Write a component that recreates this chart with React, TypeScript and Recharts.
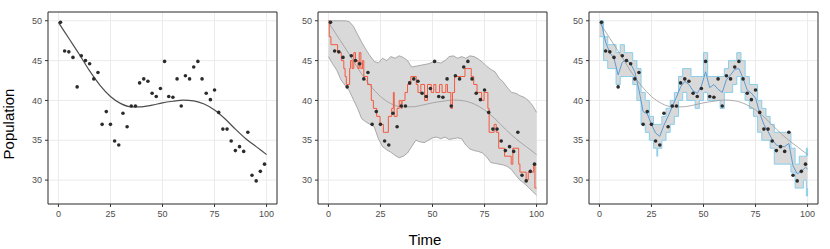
import {
  Area,
  CartesianGrid,
  ComposedChart,
  Line,
  ReferenceArea,
  Scatter,
  XAxis,
  YAxis,
} from 'recharts'

const FONT = '"Liberation Sans", Arial, Helvetica, sans-serif'

// observed population (dots)
const obsTime = [
  1, 3, 5, 7, 9, 11, 13, 15, 17, 19, 21, 23, 25, 27, 29, 31, 33, 35, 37, 39, 41, 43, 45, 47, 49,
  51, 53, 55, 57, 59, 61, 63, 65, 67, 69, 71, 73, 75, 77, 79, 81, 83, 85, 87, 89, 91, 93, 95, 97, 99,
]
const obsPop = [
  49.8, 46.2, 46.1, 45.4, 41.7, 45.6, 45.0, 44.6, 42.7, 43.5, 37.0, 38.6, 37.0, 34.9, 34.4, 38.4,
  36.7, 39.3, 39.3, 42.2, 42.7, 42.4, 40.9, 40.5, 41.5, 44.9, 40.5, 40.4, 42.7, 39.3, 43.1, 42.7,
  44.2, 44.9, 42.7, 40.9, 40.1, 41.3, 38.5, 36.4, 36.4, 34.9, 33.7, 34.2, 33.6, 36.0, 30.6, 29.9,
  31.1, 32.0,
]

// smooth trend
const trendTime = [0, 5, 10, 15, 20, 25, 30, 35, 40, 45, 50, 55, 60, 65, 70, 75, 80, 85, 90, 95, 100]
const trendPop = [
  49.8, 47.8, 45.8, 43.7, 41.9, 40.5, 39.6, 39.2, 39.2, 39.4, 39.7, 39.9, 40.05, 39.95, 39.55,
  38.8, 37.7, 36.4, 35.2, 34.2, 33.2,
]

// one simulated trajectory (step path)
const simTime = [
  0, 0.4, 1.2, 4.4, 6.2, 7.4, 8, 8.6, 10.2, 10.6, 11.4, 12.2, 13, 14.2, 14.8, 15.6, 16.4, 17, 18.8,
  20.6, 21.6, 23.2, 24.8, 26.4, 28.8, 30.4, 31.2, 31.6, 33, 34, 35, 35.4, 36.8, 38, 39.6, 42.2, 43,
  44.4, 46.2, 47.6, 49.4, 50.6, 51.6, 53.4, 54.6, 56.4, 57.2, 58.8, 59.6, 60.6, 65.6, 68.6, 69.8,
  71.4, 73.6, 74.8, 76.6, 77.2, 79.6, 80.6, 81.8, 84.6, 87.8, 88.6, 91.4, 92, 95, 96, 98.6, 99.2, 100,
]
const simPop = [
  50, 48, 47, 46, 45, 44, 43, 42, 44, 45, 44, 46, 45, 44, 46, 44, 45, 43, 42,
  40, 39, 38, 37, 36, 38, 39, 41, 38, 39, 40, 39, 40, 41, 42, 43, 42, 41,
  42, 40, 42, 41, 42, 41, 42, 41, 42, 41, 39, 41, 43, 44, 43, 42,
  41, 40, 41, 39, 36, 37, 36, 34, 33, 32, 34, 32, 31, 30, 31, 32, 29, 29,
]

// simulation envelope
const envTime = [
  0, 2, 4, 6, 8, 10, 12, 14, 16, 18, 20, 22, 24, 26, 28, 30, 32, 34, 36, 38, 40, 42, 44, 46, 48,
  50, 52, 54, 56, 58, 60, 62, 64, 66, 68, 70, 72, 74, 76, 78, 80, 82, 84, 86, 88, 90, 92, 94, 96, 98, 100,
]
const envUpper = [
  50, 50, 50, 50, 50, 49.9, 49.3, 48.3, 47.3, 46.4, 45.6, 44.9, 44.7, 45.3, 45.0, 45.5, 45.3,
  45.6, 45.4, 45.0, 44.2, 44.3, 44.4, 44.5, 44.6, 44.8, 44.8, 44.7, 45.0, 45.5, 45.6, 45.3, 45.5,
  45.3, 45.6, 45.5, 45.2, 44.8, 44.3, 43.9, 43.6, 42.8, 42.3, 41.6, 41.0, 40.9, 40.6, 40.4, 40.0,
  39.4, 38.5,
]
const envLower = [
  45.5, 44.6, 43.8, 42.6, 41.9, 41.2, 40.1, 39.0, 37.7, 37.3, 37.0, 36.7, 35.2, 34.2, 33.8, 33.5,
  33.1, 32.8, 33.0, 33.4, 34.2, 35.0, 34.8, 34.7, 35.0, 35.3, 35.4, 35.2, 35.4, 35.1, 35.2, 35.3,
  35.2, 34.4, 33.9, 33.7, 33.6, 33.4, 32.9, 32.2, 32.1, 32.0, 31.9, 31.7, 31.3, 30.6, 30.0, 29.6,
  29.1, 28.6, 28.1,
]

// filter mean and quantile band
const filterTime = [
  1, 3, 5, 7, 9, 11, 13, 15, 17, 19, 21, 23, 25, 27, 29, 31, 33, 35, 37, 39, 41, 43, 45, 47, 49,
  51, 53, 55, 57, 59, 61, 63, 65, 67, 69, 71, 73, 75, 77, 79, 81, 83, 85, 87, 89, 91, 93, 95, 97, 99, 100,
]
const filterMean = [
  49.7, 47.3, 46.0, 45.3, 43.2, 44.8, 45.1, 44.6, 43.6, 41.3, 38.6, 38.3, 37.0, 35.9, 35.5, 36.9,
  38.0, 39.2, 40.4, 41.7, 42.4, 42.0, 41.2, 40.9, 41.8, 43.6, 41.6, 42.0, 41.4, 41.0, 42.6, 43.2,
  43.9, 44.0, 42.8, 41.3, 40.9, 40.3, 38.4, 37.0, 36.1, 35.1, 34.4, 34.2, 34.2, 34.6, 31.8, 30.8,
  31.1, 31.6, 31.4,
]
const qTime = [
  0, 2, 4, 6, 8, 10, 12, 14, 16, 18, 20, 22, 24, 26, 27.6, 28, 30, 32, 34, 36, 38, 40, 42, 44, 46,
  48, 50, 52, 54, 56, 58, 60, 62, 64, 66, 68, 70, 72, 74, 76, 78, 80, 82, 84, 86, 88, 90, 92, 94,
  96, 98, 99.4, 100,
]
const qLower = [
  48, 45, 44, 44, 42, 43, 43, 43, 42, 40, 37, 36, 35, 34, 33, 34, 35, 36, 37, 38, 40, 41, 40, 40, 39,
  40, 41, 40, 40, 40, 39, 41, 41, 42, 43, 41, 40, 39, 38, 36, 35, 35, 34, 32, 32, 32, 32, 31, 29,
  29, 30, 28, 29,
]
const qUpper = [
  50, 48, 47, 47, 46, 47, 46, 46, 45, 44, 41, 40, 38, 37, 37, 37, 38, 39, 40, 41, 43, 44, 44, 43, 43,
  43, 46, 43, 43, 43, 43, 44, 45, 45, 46, 45, 43, 42, 42, 40, 39, 38, 37, 36, 36, 36, 36, 34, 32,
  33, 33, 34, 33,
]

const X_TICKS = [0, 25, 50, 75, 100]
const Y_TICKS = [30, 35, 40, 45, 50]

const points = obsTime.map((x, i) => ({ x, y: obsPop[i] }))
const trend = trendTime.map((x, i) => ({ x, y: trendPop[i] }))
const sim = simTime.map((x, i) => ({ x, y: simPop[i] }))
const envelope = envTime.map((x, i) => ({ x, band: [envLower[i], envUpper[i]] }))
const mean = filterTime.map((x, i) => ({ x, y: filterMean[i] }))
const quantiles = qTime.map((x, i) => ({ x, band: [qLower[i], qUpper[i]] }))

const Dot = (props: any) => <circle cx={props.cx} cy={props.cy} r={1.8} fill="#2b2b2b" />

function Panel({ left, children }: { left: number; children: React.ReactNode }) {
  return (
    <div style={{ position: 'absolute', left: left - 40, top: 0 }}>
      <ComposedChart width={271} height={249} margin={{ top: 12, right: 2, bottom: 25, left: 0 }}>
        <CartesianGrid stroke="#ebebeb" strokeWidth={1} />
        <XAxis
          type="number"
          dataKey="x"
          domain={[-5, 105]}
          ticks={X_TICKS}
          allowDataOverflow
          height={20}
          tickSize={3}
          tickMargin={4}
          axisLine={false}
          tickLine={{ stroke: '#333' }}
          tick={{ fontSize: 9, fill: '#4d4d4d', fontFamily: FONT }}
        />
        <YAxis
          type="number"
          domain={[27, 51.1]}
          ticks={Y_TICKS}
          allowDataOverflow
          width={40}
          tickSize={3}
          tickMargin={3}
          axisLine={false}
          tickLine={{ stroke: '#333' }}
          tick={{ fontSize: 9, fill: '#4d4d4d', fontFamily: FONT }}
        />
        {children}
        <ReferenceArea
          x1={-5}
          x2={105}
          y1={27}
          y2={51.1}
          fill="none"
          stroke="#333"
          strokeWidth={1}
          ifOverflow="visible"
        />
      </ComposedChart>
    </div>
  )
}

export default function App() {
  return (
    <div style={{ position: 'absolute', left: 0, top: 0, width: 830, height: 249, background: '#fff' }}>
      <Panel left={48}>
        <Line data={trend} dataKey="y" type="monotone" stroke="#4d4d4d" strokeWidth={1.2} dot={false} isAnimationActive={false} />
        <Scatter data={points} dataKey="y" shape={Dot} isAnimationActive={false} />
      </Panel>
      <Panel left={318}>
        <Area
          data={envelope}
          dataKey="band"
          type="linear"
          fill="#d9d9d9"
          fillOpacity={1}
          stroke="#8c8c8c"
          strokeWidth={0.7}
          dot={false}
          activeDot={false}
          isAnimationActive={false}
        />
        <Line data={trend} dataKey="y" type="monotone" stroke="#999" strokeWidth={0.8} dot={false} isAnimationActive={false} />
        <Line data={sim} dataKey="y" type="stepAfter" stroke="#f4593e" strokeWidth={1} dot={false} isAnimationActive={false} />
        <Scatter data={points} dataKey="y" shape={Dot} isAnimationActive={false} />
      </Panel>
      <Panel left={589}>
        <Area
          data={quantiles}
          dataKey="band"
          type="stepAfter"
          fill="#d9d9d9"
          fillOpacity={1}
          stroke="#87ceeb"
          strokeWidth={1}
          dot={false}
          activeDot={false}
          isAnimationActive={false}
        />
        <Line data={trend} dataKey="y" type="monotone" stroke="#999" strokeWidth={0.8} dot={false} isAnimationActive={false} />
        <Line data={mean} dataKey="y" type="linear" stroke="#5d9bd3" strokeWidth={1} dot={false} isAnimationActive={false} />
        <Scatter data={points} dataKey="y" shape={Dot} isAnimationActive={false} />
      </Panel>
      <svg width={830} height={249} style={{ position: 'absolute', left: 0, top: 0, pointerEvents: 'none' }}>
        <text x={425} y={245} textAnchor="middle" fontSize={15} fontFamily={FONT} fill="#000">
          Time
        </text>
        <text
          x={14}
          y={124}
          textAnchor="middle"
          fontSize={15}
          fontFamily={FONT}
          fill="#000"
          transform="rotate(-90, 14, 124)"
        >
          Population
        </text>
      </svg>
    </div>
  )
}
